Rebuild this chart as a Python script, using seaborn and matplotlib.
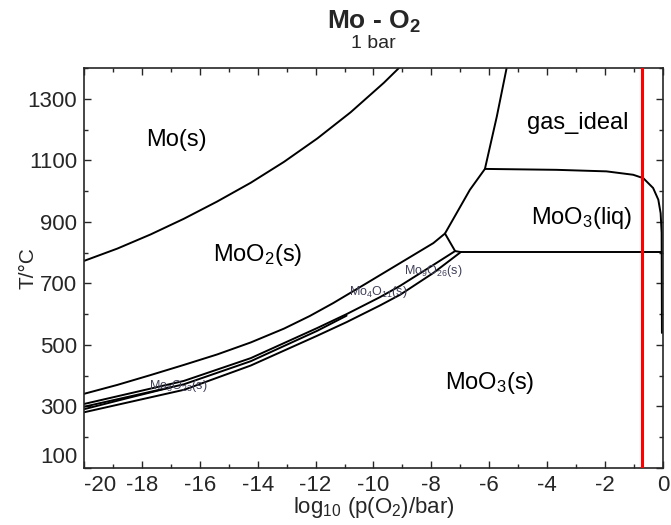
import matplotlib
matplotlib.use("Agg")
import matplotlib.pyplot as plt
import seaborn as sns
from matplotlib.ticker import MultipleLocator

# Phase boundaries of the Mo - O2 system at 1 bar (x: log10 pO2 / bar, y: T / °C)
mo_moo2_x = [-20.0, -18.85, -17.70, -16.55, -15.40, -14.24, -13.09, -11.94, -10.79, -9.64, -9.12]
mo_moo2_T = [773, 813, 859, 910, 966, 1027, 1095, 1171, 1256, 1352, 1400]

moo2_upper_x = [-20.0, -18.85, -17.70, -16.55, -15.40, -14.24, -13.09, -12.20, -11.39, -10.23,
                -9.08, -7.93, -7.53, -7.13, -6.67, -6.15]
moo2_upper_T = [341, 370, 402, 435, 469, 508, 553, 594, 636, 701,
                766, 831, 862, 928, 1004, 1072]

moo2_gas_x = [-6.15, -5.74, -5.40]
moo2_gas_T = [1072, 1242, 1400]

liq_gas_x = [-6.15, -3.67, -1.95, -1.03, -0.68, -0.34, -0.16, -0.08, -0.045, -0.035]
liq_gas_T = [1072, 1069, 1064, 1053, 1042, 1010, 972, 928, 864, 539]

link_x = [-7.53, -7.18, -7.0]
link_T = [862, 805, 802]

melt_x = [-7.0, 0.0]
melt_T = [802, 802]

mo4o11_low_x = [-20.0, -16.55, -14.24, -11.94, -10.93, -9.78, -9.08, -7.93, -7.18]
mo4o11_low_T = [308, 383, 457, 555, 600, 655, 692, 760, 805]

mo8o23_low_x = [-20.0, -16.55, -14.24, -11.94, -10.93]
mo8o23_low_T = [299, 372, 447, 546, 595]

mo17o47_low_x = [-20.0, -18.5, -17.0]
mo17o47_low_T = [291, 327, 362]

moo3_edge_x = [-20.0, -16.55, -14.24, -11.94, -10.93, -9.78, -9.08, -7.93, -6.98]
moo3_edge_T = [281, 354, 433, 530, 574, 628, 663, 734, 802]

air_log_po2 = -0.72

x_ticks = [-20, -18, -16, -14, -12, -10, -8, -6, -4, -2, 0]
y_ticks = [100, 300, 500, 700, 900, 1100, 1300]

sns.set_style("ticks")
plt.rcParams["font.family"] = ["Liberation Sans", "DejaVu Sans"]
plt.rcParams["mathtext.fontset"] = "custom"
plt.rcParams["mathtext.rm"] = "Liberation Sans"
plt.rcParams["mathtext.it"] = "Liberation Sans:italic"
plt.rcParams["mathtext.bf"] = "Liberation Sans:bold"
plt.rcParams["axes.unicode_minus"] = False

fig = plt.figure(figsize=(6.71, 5.25), dpi=100)
ax = fig.add_axes([0.1252, 0.1086, 0.8628, 0.7619])

curves = [
    (mo_moo2_x, mo_moo2_T),
    (moo2_upper_x, moo2_upper_T),
    (moo2_gas_x, moo2_gas_T),
    (liq_gas_x, liq_gas_T),
    (link_x, link_T),
    (melt_x, melt_T),
    (mo4o11_low_x, mo4o11_low_T),
    (mo8o23_low_x, mo8o23_low_T),
    (mo17o47_low_x, mo17o47_low_T),
    (moo3_edge_x, moo3_edge_T),
]
for cx, cy in curves:
    sns.lineplot(x=cx, y=cy, ax=ax, color="black", linewidth=1.4,
                 sort=False, estimator=None)

ax.axvline(air_log_po2, color="#ff0000", linewidth=2.2, zorder=5)

ax.set_xlim(-20, 0)
ax.set_ylim(100, 1400)
ax.set_xticks(x_ticks)
ax.set_yticks(y_ticks)
ax.xaxis.set_minor_locator(MultipleLocator(1))
ax.yaxis.set_minor_locator(MultipleLocator(100))
ax.tick_params(which="both", direction="in", top=True, right=True,
               labelsize=16, width=1, pad=5)
ax.tick_params(which="major", length=5)
ax.tick_params(which="minor", length=3)
for s in ax.spines.values():
    s.set_linewidth(1.2)

xl = ax.get_xticklabels()
xl[0].set_horizontalalignment("left")
yl = ax.get_yticklabels()
yl[0].set_verticalalignment("bottom")

ax.set_xlabel(r"log$_{10}$ (p(O$_2$)/bar)", fontsize=16, labelpad=-1)
ax.set_ylabel("T/°C", fontsize=15)
ax.yaxis.set_label_coords(-0.081, 0.5)

# Region labels
big = dict(fontsize=17, ha="center", va="center", color="black")
ax.text(-16.8, 1167, "Mo(s)", **big)
ax.text(-14.0, 793, r"MoO$_2$(s)", **big)
ax.text(-2.95, 1222, "gas_ideal", **big)
ax.text(-2.8, 913, r"MoO$_3$(liq)", **big)
ax.text(-6.0, 376, r"MoO$_3$(s)", **big)

small = dict(fontsize=9, ha="center", va="center", color="#40405a")
ax.text(-9.84, 672, r"Mo$_4$O$_{11}$(s)", **small)
ax.text(-7.94, 741, r"Mo$_9$O$_{26}$(s)", **small)
ax.text(-16.75, 367, r"Mo$_8$O$_{23}$(s)", **small)

fig.text(0.5565, 0.958, r"Mo - O$_\mathbf{2}$", fontsize=19, fontweight="bold",
         ha="center", va="center")
fig.text(0.5565, 0.918, "1 bar", fontsize=14, ha="center", va="center")

fig.savefig("out.png", dpi=100)
